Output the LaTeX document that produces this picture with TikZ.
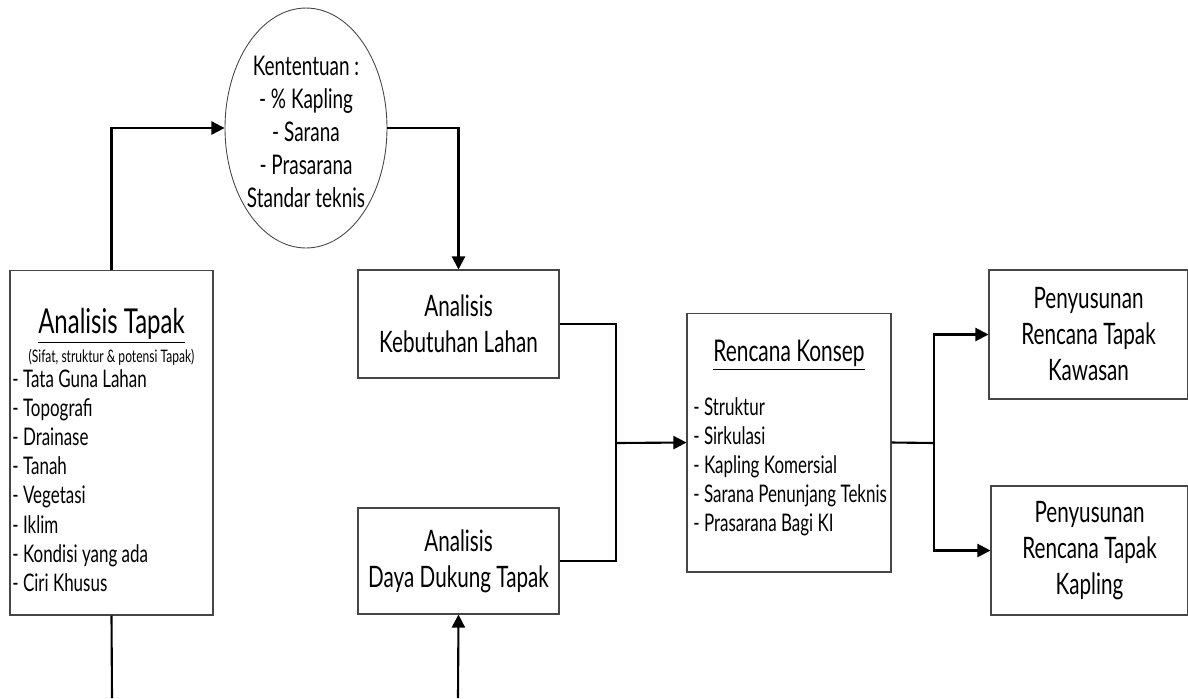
\documentclass[tikz,border=0pt]{standalone}
\usepackage{fontspec}
\setmainfont{Lato}[FakeStretch=0.70]
\usetikzlibrary{arrows.meta, positioning, shapes.geometric}
\definecolor{boxline}{RGB}{70,70,70}

\begin{document}
\begin{tikzpicture}[
      x=0.02cm, y=-0.02cm,
      box/.style={draw=boxline, line width=0.6pt, fill=white, inner sep=0pt,
                  minimum width=#1, align=center, font=\fontsize{16.8}{20.5}\selectfont},
      listtext/.style={align=left, inner sep=0pt, font=\fontsize{13.8}{16.6}\selectfont},
      conn/.style={line width=1.2pt},
      arr/.style={conn, -{Triangle[length=7.5pt, width=7.5pt]}}
  ]
    \useasboundingbox (0,0) rectangle (1188,698);

    % boxes
    \node[box=4.06cm, minimum height=6.9cm]  (tapak) at (111.5,442.5) {};
    \node[ellipse, draw=boxline, line width=0.5pt, minimum width=3.24cm, minimum height=4.8cm,
          inner sep=0pt] (ket) at (306,128) {};
    \node[box=4.02cm, minimum height=2.16cm] (kebut) at (458.5,324) {Analisis\\Kebutuhan Lahan};
    \node[box=4.02cm, minimum height=2.12cm] (daya)  at (458.5,561) {Analisis\\Daya Dukung Tapak};
    \node[box=4.08cm, minimum height=5.18cm] (konsep) at (789,442.5) {};
    \node[box=3.98cm, minimum height=2.58cm] (kawasan) at (1088.5,334.5) {Penyusunan\\Rencana Tapak\\Kawasan};
    \node[box=3.94cm, minimum height=2.58cm] (kapling) at (1089.5,550.5) {Penyusunan\\Rencana Tapak\\Kapling};

    % texts inside
    \node[inner sep=0pt, align=center, font=\fontsize{15.4}{18.7}\selectfont] (kettext) at (306,132)
          {Kententuan :\\- \% Kapling\\- Sarana\\- Prasarana\\Standar teknis};
    \node[inner sep=0pt, font=\fontsize{19.5}{20}\selectfont] (tapakjudul) at (111.5,326) {\underline{Analisis Tapak}};
    \node[inner sep=0pt, font=\fontsize{9.8}{10}\selectfont] (tapaksub) at (111.5,357) {(Sifat, struktur \& potensi Tapak)};
    \node[listtext, anchor=north west] (tapaklist) at (12,369)
          {- Tata Guna Lahan\\- Topografi\\- Drainase\\- Tanah\\- Vegetasi\\- Iklim\\- Kondisi yang ada\\- Ciri Khusus};
    \node[inner sep=0pt, font=\fontsize{17}{20}\selectfont] (konsepjudul) at (789,355) {\underline{Rencana Konsep}};
    \node[listtext, anchor=north west] (konseplist) at (693,397)
          {- Struktur\\- Sirkulasi\\- Kapling Komersial\\- Sarana Penunjang Teknis\\- Prasarana Bagi KI};

    \coordinate (bawahA) at (112,698);
    \coordinate (bawahB) at (458,698);
    \coordinate (gabung) at (616,443);
    \coordinate (cabang) at (934,443);

    % connectors
    \draw[arr] (tapak.north) |- (ket.west);
    \draw[arr] (ket.east) -| (kebut.north);
    \draw[conn] (tapak.south) -- (bawahA);
    \draw[arr] (bawahB) -- (daya.south);
    \draw[conn] (kebut.east) -| (gabung) |- (daya.east);
    \draw[arr] (gabung) -- (konsep.west);
    \draw[conn] (konsep.east) -- (cabang);
    \draw[arr] (cabang) |- (kawasan.west);
    \draw[arr] (cabang) |- (kapling.west);
  \end{tikzpicture}
\end{document}
